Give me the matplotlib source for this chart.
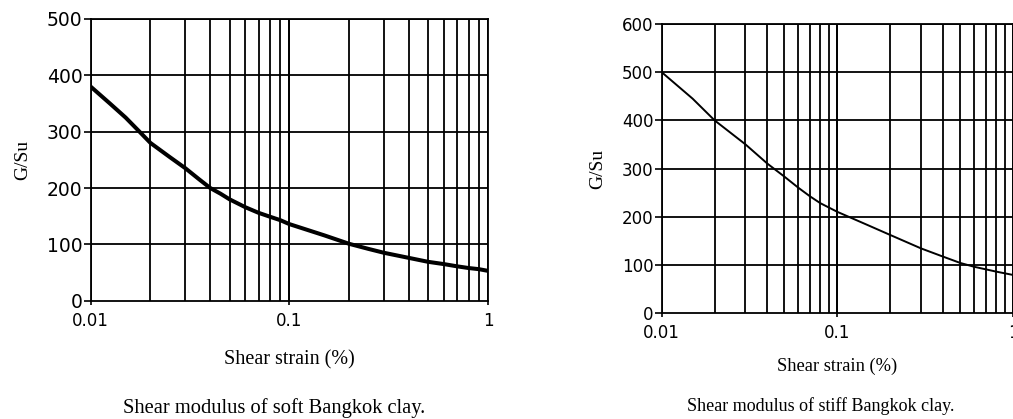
import numpy as np
import matplotlib
matplotlib.use('Agg')
import matplotlib.pyplot as plt
from matplotlib.ticker import FixedLocator, NullFormatter

# shear strain (%) and normalised shear modulus G/Su
strain_soft = [0.01, 0.0125, 0.015, 0.0175, 0.02, 0.025, 0.03, 0.035, 0.04, 0.045, 0.05, 0.06, 0.07,
               0.08, 0.09, 0.1, 0.12, 0.15, 0.2, 0.25, 0.3, 0.4, 0.5, 0.6, 0.7, 0.8, 0.9, 1.0]
gsu_soft = [380, 350, 325, 301, 280, 255, 235, 216, 200, 190, 180, 166, 156,
            149, 143, 136, 127, 116, 101, 92, 85, 76, 69, 65, 61, 58, 56, 53]

strain_stiff = [0.01, 0.015, 0.02, 0.03, 0.04, 0.05, 0.06, 0.07, 0.08, 0.1, 0.15, 0.2, 0.3, 0.4, 0.5, 0.6, 0.8, 1.0]
gsu_stiff = [500, 445, 400, 350, 310, 283, 260, 242, 228, 210, 182, 162, 134, 117, 104, 96, 86, 79]

x_ticks = [0.01, 0.1, 1]
x_ticklabels = ['0.01', '0.1', '1']
grid_x = [m * d for d in (0.01, 0.1) for m in range(1, 11)]

sans = 'DejaVu Sans'
serif = 'Liberation Serif'

fig = plt.figure(figsize=(10.13, 4.19), dpi=100)
ax1 = fig.add_axes([0.0895, 0.2823, 0.3922, 0.6724])
ax2 = fig.add_axes([0.6532, 0.253, 0.3468, 0.6897])


def setup(ax, ymax, ystep, ysize, xsize, xpad):
    ax.set_xscale('log')
    ax.set_xlim(0.01, 1)
    ax.set_ylim(0, ymax)
    ax.xaxis.set_major_locator(FixedLocator(x_ticks))
    ax.set_xticklabels(x_ticklabels)
    ax.xaxis.set_minor_locator(FixedLocator(grid_x))
    ax.xaxis.set_minor_formatter(NullFormatter())
    ax.set_yticks(np.arange(0, ymax + 1, ystep))
    for gx in grid_x:
        ax.axvline(gx, color='black', lw=1.3, zorder=1)
    for gy in np.arange(ystep, ymax + 1, ystep):
        ax.axhline(gy, color='black', lw=1.3, zorder=1)
    for s in ax.spines.values():
        s.set_linewidth(1.3)
    ax.tick_params(axis='y', which='major', direction='out', length=5, width=1.2,
                   labelsize=ysize, pad=1)
    ax.tick_params(axis='x', which='major', direction='out', length=3, width=1.2,
                   labelsize=xsize, pad=xpad)
    ax.tick_params(axis='x', which='minor', length=0)
    for lab in ax.get_xticklabels() + ax.get_yticklabels():
        lab.set_fontfamily(sans)


setup(ax1, 500, 100, 13.5, 12, 5)
ax1.plot(strain_soft, gsu_soft, color='black', lw=2.9, zorder=3, solid_capstyle='butt')
ax1.set_ylabel('G/Su', family=serif, fontsize=14, labelpad=11)
ax1.set_xlabel('Shear strain (%)', family=serif, fontsize=14.5, labelpad=15)

setup(ax2, 600, 100, 12, 12, 5)
ax2.plot(strain_stiff, gsu_stiff, color='black', lw=1.4, zorder=3)
ax2.set_ylabel('G/Su', family=serif, fontsize=14, labelpad=11)
ax2.set_xlabel('Shear strain (%)', family=serif, fontsize=13.3, labelpad=11)

fig.text(0.271, 0.026, 'Shear modulus of soft Bangkok clay.', family=serif,
         fontsize=14.8, ha='center', va='center')
fig.text(0.81, 0.031, 'Shear modulus of stiff Bangkok clay.', family=serif,
         fontsize=13, ha='center', va='center')

fig.savefig('out.png', dpi=100)
